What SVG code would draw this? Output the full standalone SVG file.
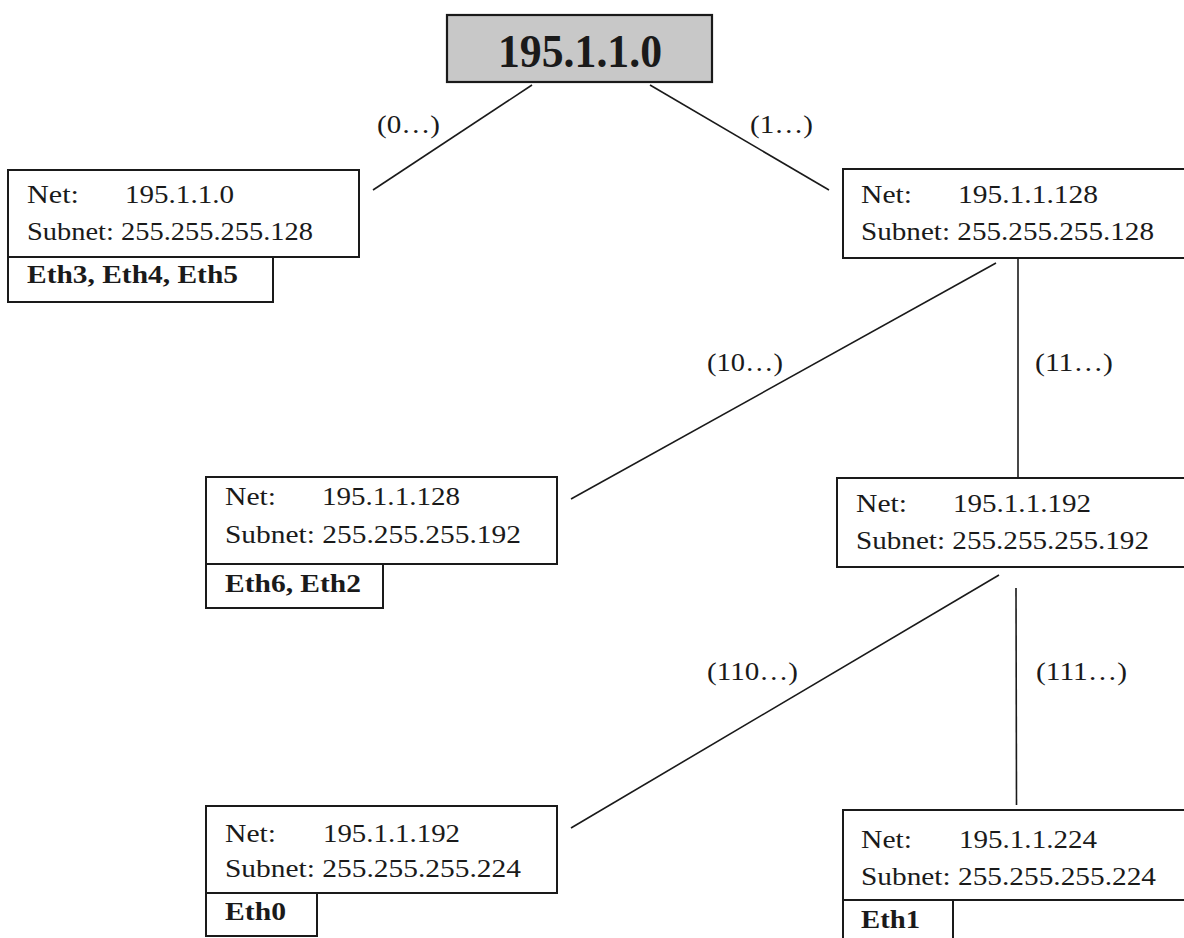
<svg xmlns="http://www.w3.org/2000/svg" width="1184" height="938" viewBox="0 0 1184 938">
  <style>
    .box { fill: #ffffff; stroke: #1a1a1a; stroke-width: 2; }
    .root { fill: #c8c8c8; stroke: #1a1a1a; stroke-width: 2.2; }
    .link { stroke: #1a1a1a; stroke-width: 1.6; fill: none; }
    .t { font-family: "Liberation Serif", "Times New Roman", serif; font-size: 26px; fill: #1a1a1a; }
    .b { font-family: "Liberation Serif", "Times New Roman", serif; font-size: 26px; font-weight: bold; fill: #1a1a1a; }
    .rt { font-family: "Liberation Serif", "Times New Roman", serif; font-size: 47px; font-weight: bold; fill: #1a1a1a; }
  </style>
  <rect width="1184" height="938" fill="#ffffff"/>

  <!-- connectors and their bit-prefix labels -->
  <g id="connectors">
    <line class="link" x1="532" y1="85" x2="373" y2="190"/>
    <line class="link" x1="650" y1="85" x2="829" y2="190"/>
    <line class="link" x1="996" y1="263" x2="571" y2="499"/>
    <line class="link" x1="1018" y1="258" x2="1018" y2="478"/>
    <line class="link" x1="999" y1="575" x2="571" y2="828"/>
    <line class="link" x1="1016" y1="588" x2="1016.5" y2="805"/>
    <text class="t" x="377" y="133" textLength="63" lengthAdjust="spacingAndGlyphs">(0…)</text>
    <text class="t" x="750" y="133" textLength="63" lengthAdjust="spacingAndGlyphs">(1…)</text>
    <text class="t" x="707" y="371" textLength="76" lengthAdjust="spacingAndGlyphs">(10…)</text>
    <text class="t" x="1035" y="371" textLength="78" lengthAdjust="spacingAndGlyphs">(11…)</text>
    <text class="t" x="707" y="680" textLength="91" lengthAdjust="spacingAndGlyphs">(110…)</text>
    <text class="t" x="1036" y="680" textLength="91" lengthAdjust="spacingAndGlyphs">(111…)</text>
  </g>

  <!-- root network -->
  <g id="node-root">
    <rect class="root" x="447" y="15" width="265" height="67"/>
    <text class="rt" x="498" y="67" textLength="164" lengthAdjust="spacingAndGlyphs">195.1.1.0</text>
  </g>

  <!-- 195.1.1.0 /25 -->
  <g id="node-0">
    <rect class="box" x="8" y="170" width="351" height="87"/>
    <rect class="box" x="8" y="257" width="265" height="45"/>
    <text class="t" x="27" y="203" textLength="52" lengthAdjust="spacingAndGlyphs">Net:</text>
    <text class="t" x="125" y="203" textLength="109" lengthAdjust="spacingAndGlyphs">195.1.1.0</text>
    <text class="t" x="27" y="240" textLength="286" lengthAdjust="spacingAndGlyphs">Subnet: 255.255.255.128</text>
    <text class="b" x="27" y="283" textLength="211" lengthAdjust="spacingAndGlyphs">Eth3, Eth4, Eth5</text>
  </g>

  <!-- 195.1.1.128 /25 -->
  <g id="node-1">
    <rect class="box" x="843" y="169" width="350" height="89"/>
    <text class="t" x="861" y="203" textLength="51" lengthAdjust="spacingAndGlyphs">Net:</text>
    <text class="t" x="958" y="203" textLength="140" lengthAdjust="spacingAndGlyphs">195.1.1.128</text>
    <text class="t" x="861" y="240" textLength="293" lengthAdjust="spacingAndGlyphs">Subnet: 255.255.255.128</text>
  </g>

  <!-- 195.1.1.128 /26 -->
  <g id="node-10">
    <rect class="box" x="206" y="477" width="351" height="87"/>
    <rect class="box" x="206" y="564" width="177" height="44"/>
    <text class="t" x="225" y="505" textLength="51" lengthAdjust="spacingAndGlyphs">Net:</text>
    <text class="t" x="322" y="505" textLength="138" lengthAdjust="spacingAndGlyphs">195.1.1.128</text>
    <text class="t" x="225" y="543" textLength="296" lengthAdjust="spacingAndGlyphs">Subnet: 255.255.255.192</text>
    <text class="b" x="225" y="592" textLength="136" lengthAdjust="spacingAndGlyphs">Eth6, Eth2</text>
  </g>

  <!-- 195.1.1.192 /26 -->
  <g id="node-11">
    <rect class="box" x="837" y="478" width="356" height="89"/>
    <text class="t" x="856" y="512" textLength="51" lengthAdjust="spacingAndGlyphs">Net:</text>
    <text class="t" x="953" y="512" textLength="138" lengthAdjust="spacingAndGlyphs">195.1.1.192</text>
    <text class="t" x="856" y="549" textLength="293" lengthAdjust="spacingAndGlyphs">Subnet: 255.255.255.192</text>
  </g>

  <!-- 195.1.1.192 /27 -->
  <g id="node-110">
    <rect class="box" x="206" y="806" width="351" height="87"/>
    <rect class="box" x="206" y="893" width="111" height="43"/>
    <text class="t" x="225" y="842" textLength="51" lengthAdjust="spacingAndGlyphs">Net:</text>
    <text class="t" x="323" y="842" textLength="137" lengthAdjust="spacingAndGlyphs">195.1.1.192</text>
    <text class="t" x="225" y="877" textLength="296" lengthAdjust="spacingAndGlyphs">Subnet: 255.255.255.224</text>
    <text class="b" x="225" y="920" textLength="61" lengthAdjust="spacingAndGlyphs">Eth0</text>
  </g>

  <!-- 195.1.1.224 /27 -->
  <g id="node-111">
    <rect class="box" x="843" y="810" width="350" height="90"/>
    <path class="link" d="M843 900 V940 M953 900 V940" style="stroke-width:2"/>
    <text class="t" x="861" y="848" textLength="51" lengthAdjust="spacingAndGlyphs">Net:</text>
    <text class="t" x="959" y="848" textLength="138" lengthAdjust="spacingAndGlyphs">195.1.1.224</text>
    <text class="t" x="861" y="885" textLength="295" lengthAdjust="spacingAndGlyphs">Subnet: 255.255.255.224</text>
    <text class="b" x="861" y="928" textLength="59" lengthAdjust="spacingAndGlyphs">Eth1</text>
  </g>
</svg>
